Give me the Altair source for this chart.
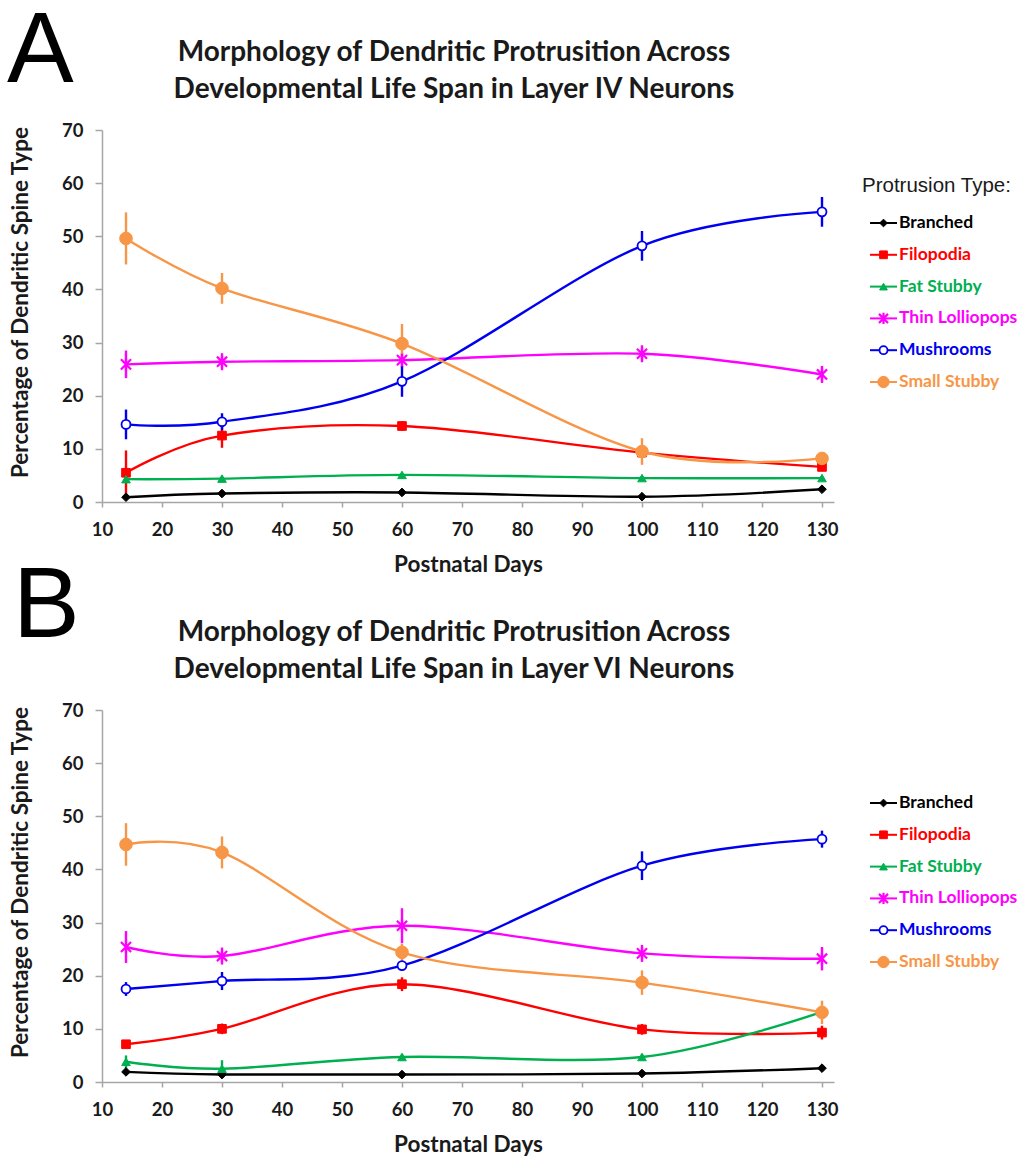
import altair as alt
import pandas as pd

# ---------------- data ----------------
days = [14, 30, 60, 100, 130]
series_names = ["Branched", "Filopodia", "Fat Stubby", "Thin Lolliopops", "Mushrooms", "Small Stubby"]

# Panel A : Layer IV neurons (mean, error)
a_branched = [0.9, 1.6, 1.8, 1.0, 2.4]
a_branched_err = [0.3, 0.3, 0.3, 0.3, 0.4]
a_filopodia = [5.5, 12.5, 14.3, 9.3, 6.6]
a_filopodia_err = [4.2, 2.3, 0.9, 0.8, 0.7]
a_fat = [4.3, 4.4, 5.1, 4.5, 4.5]
a_fat_err = [0.4, 0.4, 0.4, 0.4, 0.4]
a_thin = [25.9, 26.4, 26.7, 27.9, 24.0]
a_thin_err = [2.6, 1.6, 1.4, 1.6, 1.6]
a_mush = [14.6, 15.1, 22.7, 48.2, 54.6]
a_mush_err = [2.8, 1.6, 2.9, 2.8, 2.8]
a_small = [49.6, 40.2, 29.8, 9.5, 8.2]
a_small_err = [4.9, 2.9, 3.7, 2.5, 0.8]

# Panel B : Layer VI neurons
b_branched = [1.9, 1.4, 1.4, 1.6, 2.6]
b_branched_err = [0.3, 0.3, 0.3, 0.3, 0.4]
b_filopodia = [7.1, 10.0, 18.4, 9.9, 9.3]
b_filopodia_err = [0.5, 1.0, 1.3, 1.0, 1.3]
b_fat = [3.8, 2.5, 4.7, 4.7, 13.2]
b_fat_err = [1.2, 1.6, 0.6, 0.6, 0.8]
b_thin = [25.4, 23.7, 29.4, 24.2, 23.2]
b_thin_err = [3.0, 1.6, 3.3, 1.6, 2.2]
b_mush = [17.5, 19.0, 21.9, 40.7, 45.7]
b_mush_err = [1.3, 1.7, 0.9, 2.7, 1.6]
b_small = [44.7, 43.2, 24.4, 18.7, 13.1]
b_small_err = [4.0, 3.0, 1.6, 2.3, 2.2]

x_ticks = [10, 20, 30, 40, 50, 60, 70, 80, 90, 100, 110, 120, 130]
y_ticks = [0, 10, 20, 30, 40, 50, 60, 70]


def build_df(vals, errs):
    rows = []
    for name, v, e in zip(series_names, vals, errs):
        for d, vv, ee in zip(days, v, e):
            rows.append({"series": name, "day": d, "value": vv, "lo": vv - ee, "hi": vv + ee})
    return pd.DataFrame(rows)


df_a = build_df([a_branched, a_filopodia, a_fat, a_thin, a_mush, a_small],
                [a_branched_err, a_filopodia_err, a_fat_err, a_thin_err, a_mush_err, a_small_err])
df_b = build_df([b_branched, b_filopodia, b_fat, b_thin, b_mush, b_small],
                [b_branched_err, b_filopodia_err, b_fat_err, b_thin_err, b_mush_err, b_small_err])

# ---------------- styles ----------------
colors = ["#000000", "#FF0000", "#00B050", "#FF00FF", "#0000F0", "#F79646"]
asterisk = "M-0.8,-0.8L0.8,0.8M-0.8,0.8L0.8,-0.8M0,-1L0,1"
marker_style = {
    "Branched": dict(shape="diamond", size=75, fill="#000000", stroke="#000000", strokeWidth=1),
    "Filopodia": dict(shape="square", size=75, fill="#FF0000", stroke="#FF0000", strokeWidth=1),
    "Fat Stubby": dict(shape="triangle-up", size=75, fill="#00B050", stroke="#00B050", strokeWidth=1),
    "Thin Lolliopops": dict(shape=asterisk, size=160, fill="#FF00FF", stroke="#FF00FF", strokeWidth=2.2),
    "Mushrooms": dict(shape="circle", size=80, fill="#FFFFFF", stroke="#0000F0", strokeWidth=1.8),
    "Small Stubby": dict(shape="circle", size=160, fill="#F79646", stroke="#F79646", strokeWidth=1),
}

FONT = "Lato"
color_enc = alt.Color("series:N", scale=alt.Scale(domain=series_names, range=colors), legend=None)
x_enc = alt.X("day:Q", scale=alt.Scale(domain=[10, 132], nice=False, zero=False),
              axis=alt.Axis(values=x_ticks, title="Postnatal Days", labelFlush=False, grid=False,
                            tickSize=5, labelPadding=13, titlePadding=15))


def y_enc(field):
    return alt.Y(f"{field}:Q", scale=alt.Scale(domain=[0, 70], nice=False),
                 axis=alt.Axis(values=y_ticks, title="Percentage  of Dendritic Spine Type",
                               labelFlush=False, grid=False, tickSize=7, labelPadding=12,
                               titleX=-70, titleY=172))


def panel(df, title_lines, letter, letter_x, letter_y, header, title_offset):
    base = alt.Chart(df)
    lines = base.mark_line(interpolate="cardinal", strokeWidth=2.4).encode(
        x=x_enc, y=y_enc("value"), color=color_enc, detail="series:N")
    errs = base.mark_rule(strokeWidth=2.4).encode(
        x="day:Q", y=y_enc("lo"), y2="hi:Q", color=color_enc)
    pts = []
    for name in series_names:
        st = marker_style[name]
        pts.append(base.transform_filter(alt.datum.series == name).mark_point(
            filled=False, opacity=1, **st).encode(x="day:Q", y=y_enc("value")))
    main = alt.layer(lines, errs, *pts)

    leg_df = pd.DataFrame({"series": series_names})
    lbase = alt.Chart(leg_df)
    ly = alt.Y("series:N", scale=alt.Scale(type="point", domain=series_names, range=[93, 252], padding=0),
               axis=None)
    leg_rule = lbase.mark_rule(strokeWidth=2).encode(
        x=alt.value(768), x2=alt.value(795), y=ly, color=color_enc)
    leg_pts = []
    for name in series_names:
        st = dict(marker_style[name])
        st["size"] = st["size"] * 0.8
        leg_pts.append(lbase.transform_filter(alt.datum.series == name).mark_point(
            filled=False, opacity=1, **st).encode(x=alt.value(781.5), y=ly))
    leg_text = lbase.mark_text(align="left", baseline="middle", font=FONT, fontWeight="bold",
                               fontSize=17.5).encode(
        x=alt.value(797), y=ly, text="series:N", color=color_enc)
    legend = alt.layer(leg_rule, *leg_pts, leg_text)

    ann_layers = [alt.Chart(pd.DataFrame({"label": [letter]})).mark_text(
        align="left", baseline="alphabetic", font="Liberation Sans", fontSize=100, color="#000000"
    ).encode(x=alt.value(letter_x), y=alt.value(letter_y), text="label:N")]
    if header:
        ann_layers.append(alt.Chart(pd.DataFrame({"label": [header]})).mark_text(
            align="left", baseline="alphabetic", font="Liberation Sans", fontSize=20.5, color="#1a1a1a"
        ).encode(x=alt.value(760), y=alt.value(62), text="label:N"))

    return alt.layer(main, legend, *ann_layers).resolve_scale(y="independent").properties(
        width=732, height=372,
        title=alt.TitleParams(text=title_lines, font=FONT, fontSize=28, fontWeight="bold",
                              color="#1a1a1a", anchor="middle", frame="group", lineHeight=37,
                              offset=title_offset, dx=-14))


chart_a = panel(df_a, ["Morphology of Dendritic Protrusition Across",
                       "Developmental Life Span in Layer IV Neurons"], "A", -95, -48,
                "Protrusion Type:", -102)
chart_b = panel(df_b, ["Morphology of Dendritic Protrusition Across",
                       "Developmental Life Span in Layer VI Neurons"], "B", -89, -73,
                None, -127)

chart = alt.vconcat(chart_a, chart_b, spacing=208, bounds="flush").properties(
    padding={"left": 7, "top": 2, "right": 2, "bottom": 2},
    background="white",
).configure_view(stroke=None).configure_axis(
    domainColor="#A6A6A6", tickColor="#A6A6A6", domainWidth=1.5, tickWidth=1.5,
    labelFont=FONT, labelFontWeight="bold", labelFontSize=18.5, labelColor="#1a1a1a",
    titleFont=FONT, titleFontWeight="bold", titleFontSize=22.5, titleColor="#1a1a1a",
)

chart.save("out.html", embed_options={"renderer": "svg", "actions": False})
